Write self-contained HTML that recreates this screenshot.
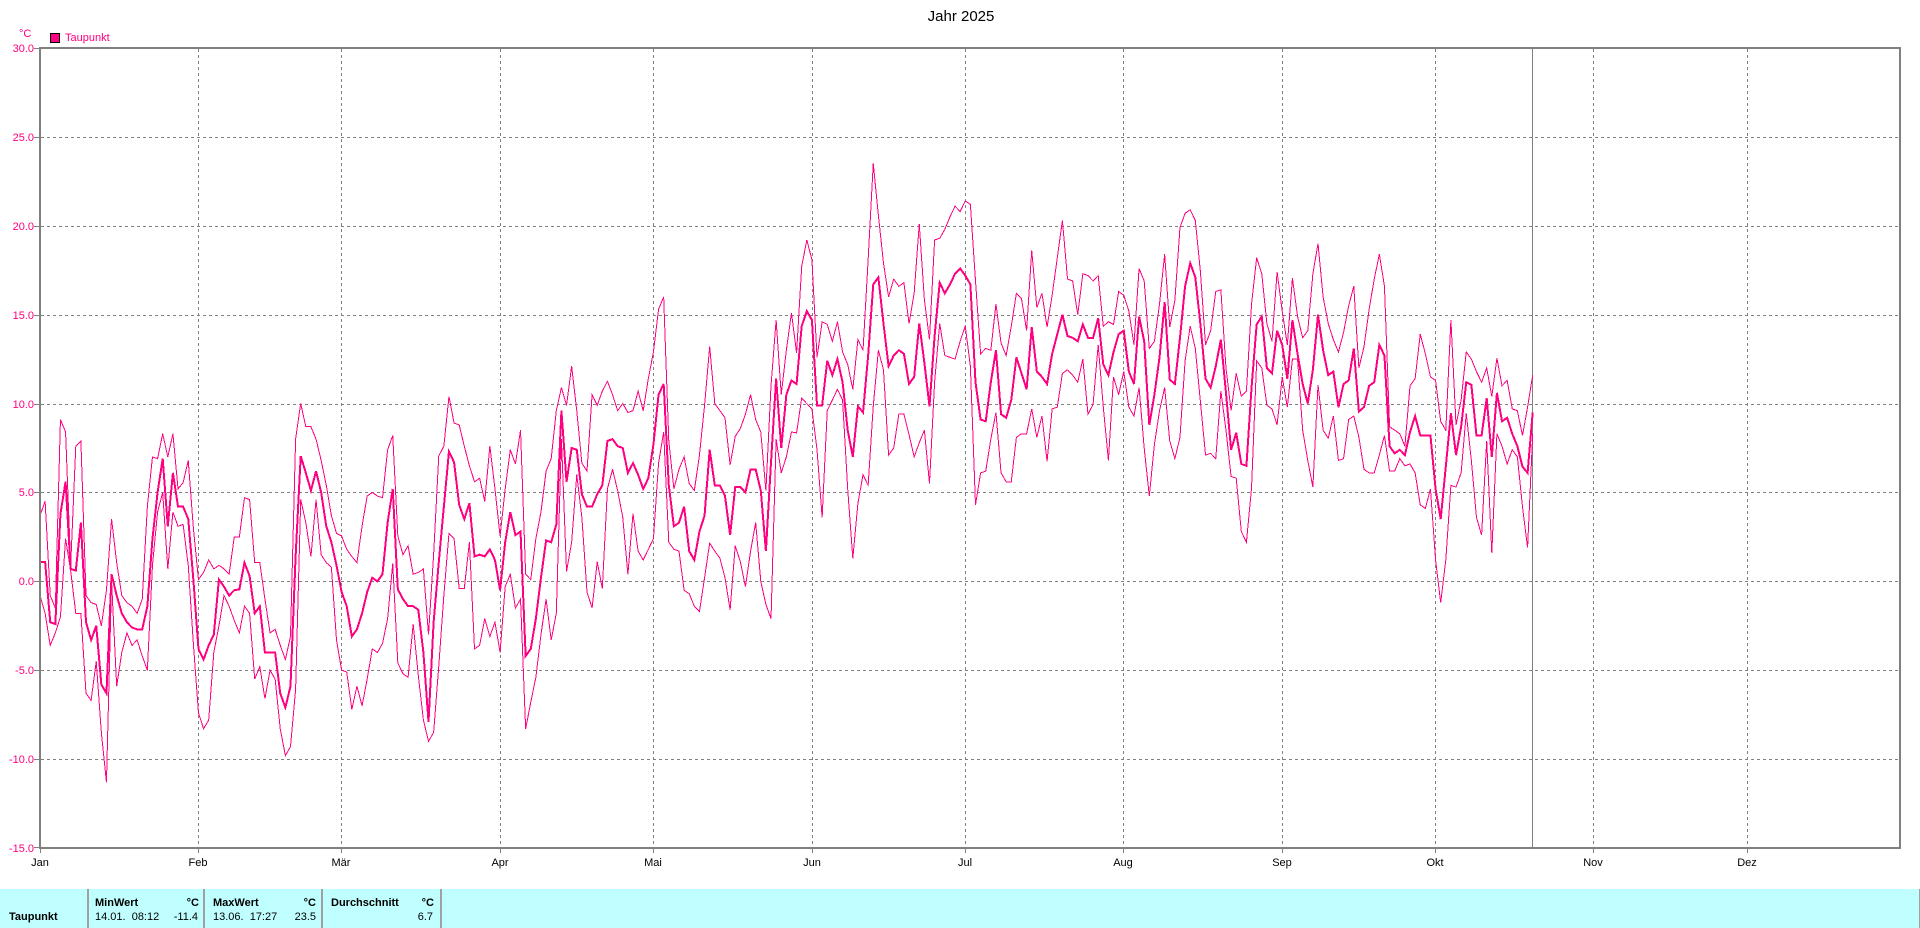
<!DOCTYPE html>
<html><head><meta charset="utf-8"><style>
html,body{margin:0;padding:0;background:#fff;}
svg{display:block;}
text{font-family:"Liberation Sans",Arial,sans-serif;}
</style></head><body>
<svg width="1920" height="928" viewBox="0 0 1920 928" xmlns="http://www.w3.org/2000/svg">
<rect x="0" y="0" width="1920" height="928" fill="#fff"/>
<text x="961" y="21" font-size="15" text-anchor="middle" fill="#000">Jahr 2025</text>
<text x="19" y="37" font-size="11" fill="#FF0080">°C</text>
<rect x="50.5" y="33.5" width="9" height="9" fill="#FF0080" stroke="#000" stroke-width="1"/>
<text x="65" y="41" font-size="11" fill="#FF0080">Taupunkt</text>

<g stroke="#808080" stroke-width="1" stroke-dasharray="3,3" shape-rendering="crispEdges">
<line x1="41" y1="137.5" x2="1899" y2="137.5"/>
<line x1="41" y1="226.5" x2="1899" y2="226.5"/>
<line x1="41" y1="315.5" x2="1899" y2="315.5"/>
<line x1="41" y1="404.5" x2="1899" y2="404.5"/>
<line x1="41" y1="492.5" x2="1899" y2="492.5"/>
<line x1="41" y1="581.5" x2="1899" y2="581.5"/>
<line x1="41" y1="670.5" x2="1899" y2="670.5"/>
<line x1="41" y1="759.5" x2="1899" y2="759.5"/>
<line x1="198.5" y1="49" x2="198.5" y2="847"/>
<line x1="341.5" y1="49" x2="341.5" y2="847"/>
<line x1="500.5" y1="49" x2="500.5" y2="847"/>
<line x1="653.5" y1="49" x2="653.5" y2="847"/>
<line x1="812.5" y1="49" x2="812.5" y2="847"/>
<line x1="965.5" y1="49" x2="965.5" y2="847"/>
<line x1="1123.5" y1="49" x2="1123.5" y2="847"/>
<line x1="1282.5" y1="49" x2="1282.5" y2="847"/>
<line x1="1435.5" y1="49" x2="1435.5" y2="847"/>
<line x1="1593.5" y1="49" x2="1593.5" y2="847"/>
<line x1="1747.5" y1="49" x2="1747.5" y2="847"/>
</g>
<g stroke="#808080" stroke-width="1" shape-rendering="crispEdges">
<line x1="1532.5" y1="49" x2="1532.5" y2="847"/>
<line x1="34" y1="48.5" x2="40" y2="48.5"/>
<line x1="34" y1="137.5" x2="40" y2="137.5"/>
<line x1="34" y1="226.5" x2="40" y2="226.5"/>
<line x1="34" y1="315.5" x2="40" y2="315.5"/>
<line x1="34" y1="404.5" x2="40" y2="404.5"/>
<line x1="34" y1="492.5" x2="40" y2="492.5"/>
<line x1="34" y1="581.5" x2="40" y2="581.5"/>
<line x1="34" y1="670.5" x2="40" y2="670.5"/>
<line x1="34" y1="759.5" x2="40" y2="759.5"/>
<line x1="34" y1="847.5" x2="40" y2="847.5"/>
<line x1="40.5" y1="848" x2="40.5" y2="853"/>
<line x1="198.5" y1="848" x2="198.5" y2="853"/>
<line x1="341.5" y1="848" x2="341.5" y2="853"/>
<line x1="500.5" y1="848" x2="500.5" y2="853"/>
<line x1="653.5" y1="848" x2="653.5" y2="853"/>
<line x1="812.5" y1="848" x2="812.5" y2="853"/>
<line x1="965.5" y1="848" x2="965.5" y2="853"/>
<line x1="1123.5" y1="848" x2="1123.5" y2="853"/>
<line x1="1282.5" y1="848" x2="1282.5" y2="853"/>
<line x1="1435.5" y1="848" x2="1435.5" y2="853"/>
<line x1="1593.5" y1="848" x2="1593.5" y2="853"/>
<line x1="1747.5" y1="848" x2="1747.5" y2="853"/>
</g>

<g font-size="11" fill="#FF0080" text-anchor="end">
<text x="34" y="52">30.0</text>
<text x="34" y="141">25.0</text>
<text x="34" y="230">20.0</text>
<text x="34" y="319">15.0</text>
<text x="34" y="408">10.0</text>
<text x="34" y="496">5.0</text>
<text x="34" y="585">0.0</text>
<text x="34" y="674">-5.0</text>
<text x="34" y="763">-10.0</text>
<text x="34" y="852">-15.0</text>
</g>
<g font-size="11" fill="#000" text-anchor="middle">
<text x="40" y="866">Jan</text>
<text x="198" y="866">Feb</text>
<text x="341" y="866">Mär</text>
<text x="500" y="866">Apr</text>
<text x="653" y="866">Mai</text>
<text x="812" y="866">Jun</text>
<text x="965" y="866">Jul</text>
<text x="1123" y="866">Aug</text>
<text x="1282" y="866">Sep</text>
<text x="1435" y="866">Okt</text>
<text x="1593" y="866">Nov</text>
<text x="1747" y="866">Dez</text>
</g>

<g transform="matrix(5.112 0 0 -17.778 40 581.33)" fill="none" stroke="#FF0080" stroke-linejoin="miter" shape-rendering="crispEdges">
<polyline vector-effect="non-scaling-stroke" stroke-width="1" points="0,3.7 1,4.5 2,-0.8 3,-1.5 4,9.1 5,8.4 6,0.9 7,7.6 8,7.9 9,-0.8 10,-1.2 11,-1.3 12,-2.5 13,-0.5 14,3.5 15,1.05 16,-0.8 17,-1.2 18,-1.4 19,-1.8 20,-1.0 21,4.2 22,7.0 23,6.9 24,8.3 25,7.0 26,8.3 27,5.2 28,5.55 29,6.8 30,3.0 31,0.1 32,0.5 33,1.2 34,0.7 35,0.9 36,0.7 37,0.4 38,2.5 39,2.5 40,4.7 41,4.6 42,1.05 43,1.05 44,-1.0 45,-2.9 46,-2.7 47,-3.6 48,-4.4 49,-3.1 50,8.0 51,10.0 52,8.7 53,8.7 54,8.0 55,6.8 56,5.4 57,3.7 58,2.7 59,2.55 60,1.8 61,1.4 62,1.05 63,3.1 64,4.8 65,5.0 66,4.8 67,4.7 68,7.4 69,8.2 70,2.55 71,1.5 72,2.0 73,0.4 74,0.5 75,0.7 76,-3.0 77,1.5 78,7.05 79,7.6 80,10.4 81,8.9 82,8.8 83,7.6 84,6.5 85,5.6 86,5.8 87,4.5 88,7.6 89,5.2 90,2.55 91,5.2 92,7.4 93,6.6 94,8.5 95,0.4 96,0.1 97,2.4 98,3.9 99,6.2 100,6.9 101,9.6 102,10.9 103,9.9 104,12.1 105,9.6 106,6.65 107,6.2 108,10.5 109,9.9 110,10.7 111,11.25 112,10.5 113,9.6 114,10.0 115,9.5 116,9.6 117,10.7 118,9.6 119,11.4 120,12.9 121,15.3 122,16.0 123,7.9 124,5.2 125,6.3 126,7.0 127,5.5 128,5.1 129,7.1 130,9.9 131,13.2 132,10.0 133,9.6 134,9.2 135,6.55 136,8.15 137,8.6 138,9.4 139,10.5 140,9.1 141,8.4 142,5.1 143,11.0 144,14.7 145,10.5 146,13.0 147,15.1 148,12.85 149,17.7 150,19.2 151,18.1 152,12.6 153,14.6 154,14.45 155,13.5 156,14.6 157,12.9 158,12.2 159,10.8 160,13.6 161,13.0 162,18.1 163,23.5 164,20.6 165,17.9 166,16.0 167,17.0 168,16.6 169,16.8 170,14.5 171,16.2 172,20.1 173,15.85 174,13.6 175,19.2 176,19.3 177,19.8 178,20.5 179,21.1 180,20.8 181,21.4 182,21.2 183,16.9 184,12.8 185,13.1 186,13.0 187,15.6 188,13.4 189,12.7 190,14.35 191,16.2 192,15.9 193,14.1 194,18.6 195,15.4 196,16.2 197,14.3 198,16.1 199,18.2 200,20.3 201,17.0 202,16.9 203,15.0 204,17.3 205,17.2 206,16.9 207,17.2 208,14.35 209,14.6 210,14.45 211,16.3 212,16.1 213,15.2 214,13.3 215,17.6 216,16.9 217,13.1 218,13.5 219,15.6 220,18.4 221,14.3 222,15.8 223,19.9 224,20.7 225,20.9 226,20.3 227,17.4 228,13.3 229,14.1 230,16.3 231,16.4 232,12.0 233,9.6 234,11.7 235,10.4 236,10.7 237,15.6 238,18.2 239,17.3 240,14.5 241,13.5 242,17.4 243,15.2 244,13.3 245,17.05 246,14.9 247,13.7 248,14.1 249,17.3 250,19.0 251,16.0 252,14.5 253,13.6 254,12.9 255,14.0 256,15.5 257,16.6 258,12.0 259,13.2 260,15.3 261,17.0 262,18.4 263,16.6 264,8.7 265,8.5 266,8.3 267,7.6 268,11.0 269,11.4 270,13.9 271,12.8 272,11.5 273,11.3 274,9.0 275,8.5 276,14.7 277,8.8 278,10.2 279,12.9 280,12.5 281,11.8 282,11.2 283,12.0 284,10.4 285,12.55 286,11.0 287,11.3 288,9.7 289,9.6 290,8.2 291,9.8 292,11.6"/>
<polyline vector-effect="non-scaling-stroke" stroke-width="1" points="0,-0.8 1,-1.8 2,-3.6 3,-2.9 4,-2.0 5,2.4 6,0.6 7,-1.8 8,-1.8 9,-6.3 10,-6.7 11,-4.5 12,-8.5 13,-11.3 14,0.0 15,-5.9 16,-4.0 17,-2.9 18,-3.6 19,-3.3 20,-4.2 21,-5.0 22,0.9 23,3.9 24,5.0 25,0.7 26,3.9 27,3.1 28,3.2 29,0.9 30,-3.5 31,-7.4 32,-8.3 33,-7.8 34,-4.0 35,-2.5 36,-0.8 37,-1.4 38,-2.2 39,-2.9 40,-1.4 41,-1.8 42,-5.5 43,-4.8 44,-6.6 45,-5.0 46,-5.5 47,-8.3 48,-9.8 49,-9.3 50,-6.1 51,4.6 52,3.3 53,1.4 54,4.6 55,1.5 56,1.05 57,0.8 58,-3.3 59,-5.0 60,-5.1 61,-7.2 62,-5.9 63,-7.0 64,-5.5 65,-3.8 66,-4.0 67,-3.5 68,-2.1 69,1.0 70,-4.6 71,-5.2 72,-5.4 73,-2.4 74,-5.3 75,-7.8 76,-9.0 77,-8.5 78,-4.8 79,-0.8 80,2.7 81,2.4 82,-0.4 83,-0.4 84,2.2 85,-3.8 86,-3.6 87,-2.1 88,-3.1 89,-2.3 90,-4.0 91,-0.3 92,0.4 93,-1.5 94,-1.0 95,-8.3 96,-6.8 97,-5.4 98,-3.0 99,-1.0 100,-3.3 101,-1.8 102,8.0 103,0.55 104,2.2 105,6.0 106,3.6 107,-0.6 108,-1.5 109,1.1 110,-0.4 111,5.2 112,6.3 113,5.1 114,3.6 115,0.4 116,3.8 117,1.7 118,1.2 119,1.8 120,2.4 121,6.65 122,8.4 123,2.2 124,1.8 125,1.7 126,-0.5 127,-0.7 128,-1.4 129,-1.7 130,0.2 131,2.15 132,1.7 133,1.3 134,0.2 135,-1.6 136,2.0 137,1.1 138,-0.3 139,1.7 140,3.3 141,0.0 142,-1.3 143,-2.1 144,8.0 145,6.1 146,7.0 147,8.4 148,8.35 149,10.3 150,10.0 151,9.7 152,7.4 153,3.6 154,9.6 155,10.2 156,10.8 157,10.2 158,5.2 159,1.3 160,4.4 161,6.0 162,5.4 163,9.85 164,13.0 165,11.9 166,7.1 167,7.5 168,9.4 169,9.4 170,8.25 171,7.0 172,7.8 173,8.5 174,5.5 175,11.2 176,14.5 177,12.7 178,12.6 179,12.5 180,13.5 181,14.35 182,12.1 183,4.3 184,6.1 185,6.2 186,8.0 187,9.5 188,6.1 189,5.6 190,5.6 191,8.1 192,8.3 193,8.3 194,9.7 195,8.1 196,9.3 197,6.75 198,9.7 199,9.8 200,11.7 201,11.9 202,11.6 203,11.2 204,12.5 205,9.4 206,9.95 207,13.3 208,9.8 209,6.8 210,11.5 211,10.5 212,11.8 213,9.8 214,9.3 215,10.9 216,7.5 217,4.8 218,7.7 219,9.6 220,10.9 221,7.9 222,6.9 223,8.1 224,12.4 225,14.35 226,13.1 227,10.1 228,7.1 229,7.2 230,6.9 231,10.7 232,8.5 233,5.9 234,5.8 235,2.8 236,2.2 237,5.25 238,12.4 239,12.0 240,9.9 241,9.7 242,8.8 243,11.5 244,9.8 245,12.5 246,12.5 247,8.5 248,6.8 249,5.3 250,11.05 251,8.5 252,8.05 253,9.3 254,6.8 255,6.9 256,9.1 257,9.3 258,8.1 259,6.3 260,6.1 261,6.1 262,7.1 263,8.2 264,6.2 265,6.2 266,6.9 267,6.5 268,6.6 269,6.1 270,4.3 271,4.1 272,5.2 273,1.2 274,-1.2 275,1.2 276,5.4 277,5.3 278,6.1 279,9.45 280,6.8 281,3.6 282,2.6 283,7.9 284,1.6 285,8.3 286,7.6 287,6.6 288,7.4 289,7.0 290,4.2 291,1.9 292,8.3"/>
<polyline vector-effect="non-scaling-stroke" stroke-width="2" points="0,1.1 1,1.1 2,-2.3 3,-2.4 4,3.8 5,5.6 6,0.7 7,0.6 8,3.3 9,-2.3 10,-3.3 11,-2.5 12,-5.8 13,-6.3 14,0.4 15,-0.8 16,-1.8 17,-2.3 18,-2.6 19,-2.7 20,-2.7 21,-1.4 22,2.4 23,5.0 24,6.9 25,3.1 26,6.1 27,4.2 28,4.2 29,3.5 30,0.1 31,-3.8 32,-4.4 33,-3.6 34,-3.0 35,0.1 36,-0.3 37,-0.8 38,-0.5 39,-0.45 40,1.05 41,0.3 42,-1.8 43,-1.4 44,-4.0 45,-4.0 46,-4.0 47,-6.3 48,-7.1 49,-5.9 50,1.4 51,7.05 52,6.1 53,5.1 54,6.2 55,5.0 56,3.1 57,2.2 58,0.9 59,-0.6 60,-1.4 61,-3.1 62,-2.7 63,-1.8 64,-0.6 65,0.2 66,0.0 67,0.4 68,3.3 69,5.2 70,-0.45 71,-1.0 72,-1.4 73,-1.4 74,-1.6 75,-4.0 76,-7.9 77,-2.3 78,1.05 79,4.2 80,7.3 81,6.7 82,4.3 83,3.5 84,4.4 85,1.4 86,1.5 87,1.4 88,1.8 89,1.2 90,-0.5 91,2.2 92,3.9 93,2.6 94,2.8 95,-4.2 96,-3.8 97,-2.1 98,0.2 99,2.3 100,2.2 101,3.2 102,9.6 103,5.6 104,7.5 105,7.4 106,4.9 107,4.2 108,4.2 109,4.9 110,5.4 111,7.9 112,8.0 113,7.6 114,7.5 115,6.1 116,6.65 117,6.0 118,5.2 119,5.8 120,7.7 121,10.5 122,11.1 123,5.4 124,3.1 125,3.3 126,4.2 127,1.7 128,1.2 129,2.8 130,3.7 131,7.4 132,5.4 133,5.4 134,4.8 135,2.6 136,5.3 137,5.3 138,5.0 139,6.3 140,6.3 141,5.1 142,1.7 143,6.7 144,11.4 145,7.5 146,10.5 147,11.3 148,11.1 149,14.35 150,15.2 151,14.7 152,9.9 153,9.9 154,12.4 155,11.6 156,12.5 157,11.2 158,8.5 159,7.0 160,9.85 161,9.5 162,12.7 163,16.7 164,17.1 165,14.5 166,12.1 167,12.7 168,13.0 169,12.8 170,11.1 171,11.5 172,14.5 173,12.3 174,9.85 175,13.8 176,16.8 177,16.2 178,16.7 179,17.3 180,17.6 181,17.2 182,16.7 183,11.2 184,9.1 185,9.0 186,11.2 187,13.0 188,9.4 189,9.2 190,10.2 191,12.6 192,11.7 193,10.8 194,14.3 195,11.8 196,11.5 197,11.1 198,12.8 199,13.9 200,15.0 201,13.8 202,13.7 203,13.5 204,14.45 205,13.7 206,13.7 207,14.8 208,12.2 209,11.6 210,12.9 211,13.9 212,14.1 213,11.8 214,11.1 215,14.9 216,13.5 217,8.8 218,10.5 219,12.6 220,15.7 221,11.35 222,11.1 223,13.7 224,16.6 225,17.9 226,17.1 227,14.45 228,11.4 229,10.9 230,12.1 231,13.6 232,10.6 233,7.4 234,8.35 235,6.6 236,6.5 237,10.9 238,14.45 239,14.9 240,12.0 241,11.7 242,14.1 243,13.3 244,11.4 245,14.7 246,12.8 247,11.1 248,10.0 249,11.9 250,15.0 251,13.0 252,11.6 253,11.8 254,9.8 255,11.1 256,11.3 257,13.1 258,9.55 259,9.8 260,11.0 261,11.2 262,13.3 263,12.7 264,7.6 265,7.2 266,7.4 267,7.1 268,8.4 269,9.3 270,8.2 271,8.2 272,8.2 273,5.2 274,3.5 275,6.45 276,9.45 277,7.1 278,8.7 279,11.2 280,11.05 281,8.2 282,8.2 283,10.3 284,7.0 285,10.6 286,9.0 287,9.2 288,8.3 289,7.6 290,6.45 291,6.1 292,9.5"/>
</g>

<rect x="40" y="48" width="1860" height="800" fill="none" stroke="#808080" stroke-width="2"/>

<rect x="0" y="889" width="1920" height="39" fill="#C0FFFF"/>
<g fill="#A0A0A0">
<rect x="87" y="889" width="2" height="39"/>
<rect x="203" y="889" width="2" height="39"/>
<rect x="321" y="889" width="2" height="39"/>
<rect x="440" y="889" width="2" height="39"/>
<rect x="1919" y="889" width="1" height="39"/>
</g>
<g font-size="11" fill="#000">
<text x="95" y="906" font-weight="bold">MinWert</text>
<text x="199" y="906" font-weight="bold" text-anchor="end">°C</text>
<text x="213" y="906" font-weight="bold">MaxWert</text>
<text x="316" y="906" font-weight="bold" text-anchor="end">°C</text>
<text x="331" y="906" font-weight="bold">Durchschnitt</text>
<text x="434" y="906" font-weight="bold" text-anchor="end">°C</text>
<text x="9" y="920" font-weight="bold">Taupunkt</text>
<text x="95" y="920" xml:space="preserve">14.01.  08:12</text>
<text x="198" y="920" text-anchor="end">-11.4</text>
<text x="213" y="920" xml:space="preserve">13.06.  17:27</text>
<text x="316" y="920" text-anchor="end">23.5</text>
<text x="433" y="920" text-anchor="end">6.7</text>
</g>
</svg>
</body></html>
